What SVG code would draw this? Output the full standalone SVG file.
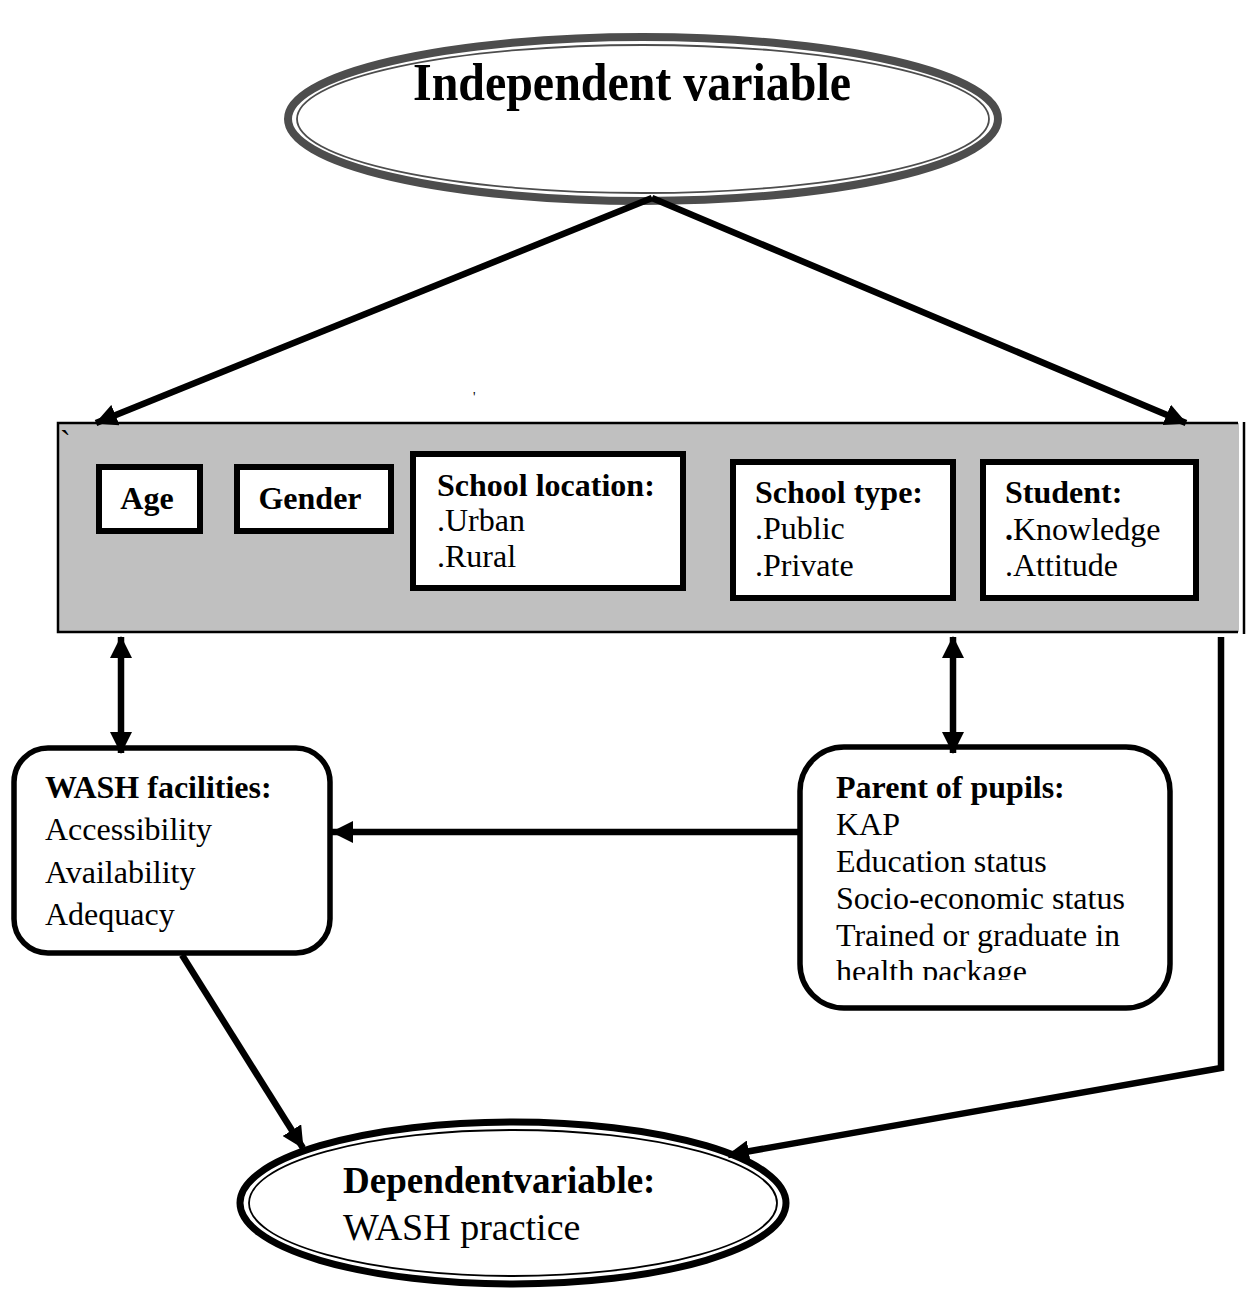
<svg xmlns="http://www.w3.org/2000/svg" width="1254" height="1291" viewBox="0 0 1254 1291">
<style>
text{font-family:"Liberation Serif","Times New Roman",serif;fill:#000}
.b{font-weight:bold}
.t{font-size:32px}
.box{fill:#fff;stroke:#000;stroke-width:6}
.rbox{fill:#fff;stroke:#000;stroke-width:5.5}
.conn{stroke:#000;stroke-width:6.5;fill:none}
</style>
<defs>
<marker id="ah" viewBox="0 0 22 22" refX="21" refY="11" markerWidth="22" markerHeight="22" markerUnits="userSpaceOnUse" orient="auto-start-reverse">
<path d="M0,0 L22,11 L0,22 z" fill="#000"/>
</marker>
<clipPath id="pclip"><rect x="800" y="745" width="372" height="235"/></clipPath>
</defs>
<rect width="1254" height="1291" fill="#fff"/>

<g id="independent">
<ellipse cx="643" cy="119" rx="355" ry="82" fill="#fff" stroke="#4d4d4d" stroke-width="8"/>
<ellipse cx="643" cy="119" rx="346" ry="74" fill="none" stroke="#4d4d4d" stroke-width="1.8"/>
<text x="413" y="100" class="b" font-size="52" textLength="438" lengthAdjust="spacingAndGlyphs">Independent variable</text>
</g>

<g id="factors">
<rect x="58" y="423" width="1181" height="209" fill="#c0c0c0"/>
<path d="M1238,423 H58 V632 H1238" fill="none" stroke="#000" stroke-width="2.5"/>
<line x1="1244" y1="422" x2="1244" y2="634" stroke="#000" stroke-width="2.5"/>
<text x="60" y="452" class="t">`</text>
</g>
<text x="473" y="402" font-size="14">'</text>

<g id="age">
<rect class="box" x="99" y="467" width="101" height="64"/>
<text x="147" y="509" text-anchor="middle" class="b t">Age</text>
</g>
<g id="gender">
<rect class="box" x="237" y="467" width="154" height="64"/>
<text x="310" y="509" text-anchor="middle" class="b t">Gender</text>
</g>
<g id="location">
<rect class="box" x="413" y="454" width="270" height="134"/>
<text x="437" y="496" class="b t">School location:</text>
<text x="437" y="531" class="t">.Urban</text>
<text x="437" y="567" class="t">.Rural</text>
</g>
<g id="schooltype">
<rect class="box" x="733" y="462" width="220" height="136"/>
<text x="755" y="503" class="b t">School type:</text>
<text x="755" y="539" class="t">.Public</text>
<text x="755" y="576" class="t">.Private</text>
</g>
<g id="student">
<rect class="box" x="983" y="462" width="213" height="136"/>
<text x="1005" y="503" class="b t">Student:</text>
<text x="1005" y="540" class="t"><tspan class="b">.</tspan>Knowledge</text>
<text x="1005" y="576" class="t">.Attitude</text>
</g>

<g id="wash">
<rect class="rbox" x="14" y="748" width="316" height="205" rx="34"/>
<text x="45" y="798" class="b t">WASH facilities:</text>
<text x="45" y="840" class="t">Accessibility</text>
<text x="45" y="883" class="t">Availability</text>
<text x="45" y="925" class="t">Adequacy</text>
</g>

<g id="parent">
<rect class="rbox" x="800" y="747" width="370" height="261" rx="44"/>
<text x="836" y="798" class="b t">Parent of pupils:</text>
<g clip-path="url(#pclip)">
<text x="836" y="835" class="t">KAP</text>
<text x="836" y="872" class="t">Education status</text>
<text x="836" y="909" class="t">Socio-economic status</text>
<text x="836" y="946" class="t">Trained or graduate in</text>
<text x="836" y="982" class="t">health package</text>
</g>
</g>

<g id="dependent">
<ellipse cx="513" cy="1203" rx="273" ry="81" fill="#fff" stroke="#000" stroke-width="7"/>
<ellipse cx="513" cy="1203" rx="264" ry="73" fill="none" stroke="#000" stroke-width="1.8"/>
<text x="343" y="1193" class="b" font-size="37">Dependentvariable:</text>
<text x="343" y="1240" font-size="38">WASH practice</text>
</g>

<g id="connectors">
<line class="conn" x1="652" y1="198" x2="96" y2="423" marker-end="url(#ah)"/>
<line class="conn" x1="652" y1="198" x2="1186" y2="423" marker-end="url(#ah)"/>
<line class="conn" x1="121" y1="637" x2="121" y2="753" marker-start="url(#ah)" marker-end="url(#ah)"/>
<line class="conn" x1="953" y1="637" x2="953" y2="753" marker-start="url(#ah)" marker-end="url(#ah)"/>
<line class="conn" x1="800" y1="832" x2="332" y2="832" marker-end="url(#ah)"/>
<line class="conn" x1="182" y1="955" x2="303" y2="1148" marker-end="url(#ah)"/>
<polyline class="conn" points="1221,637 1221,1068 728,1155" marker-end="url(#ah)"/>
</g>
</svg>
